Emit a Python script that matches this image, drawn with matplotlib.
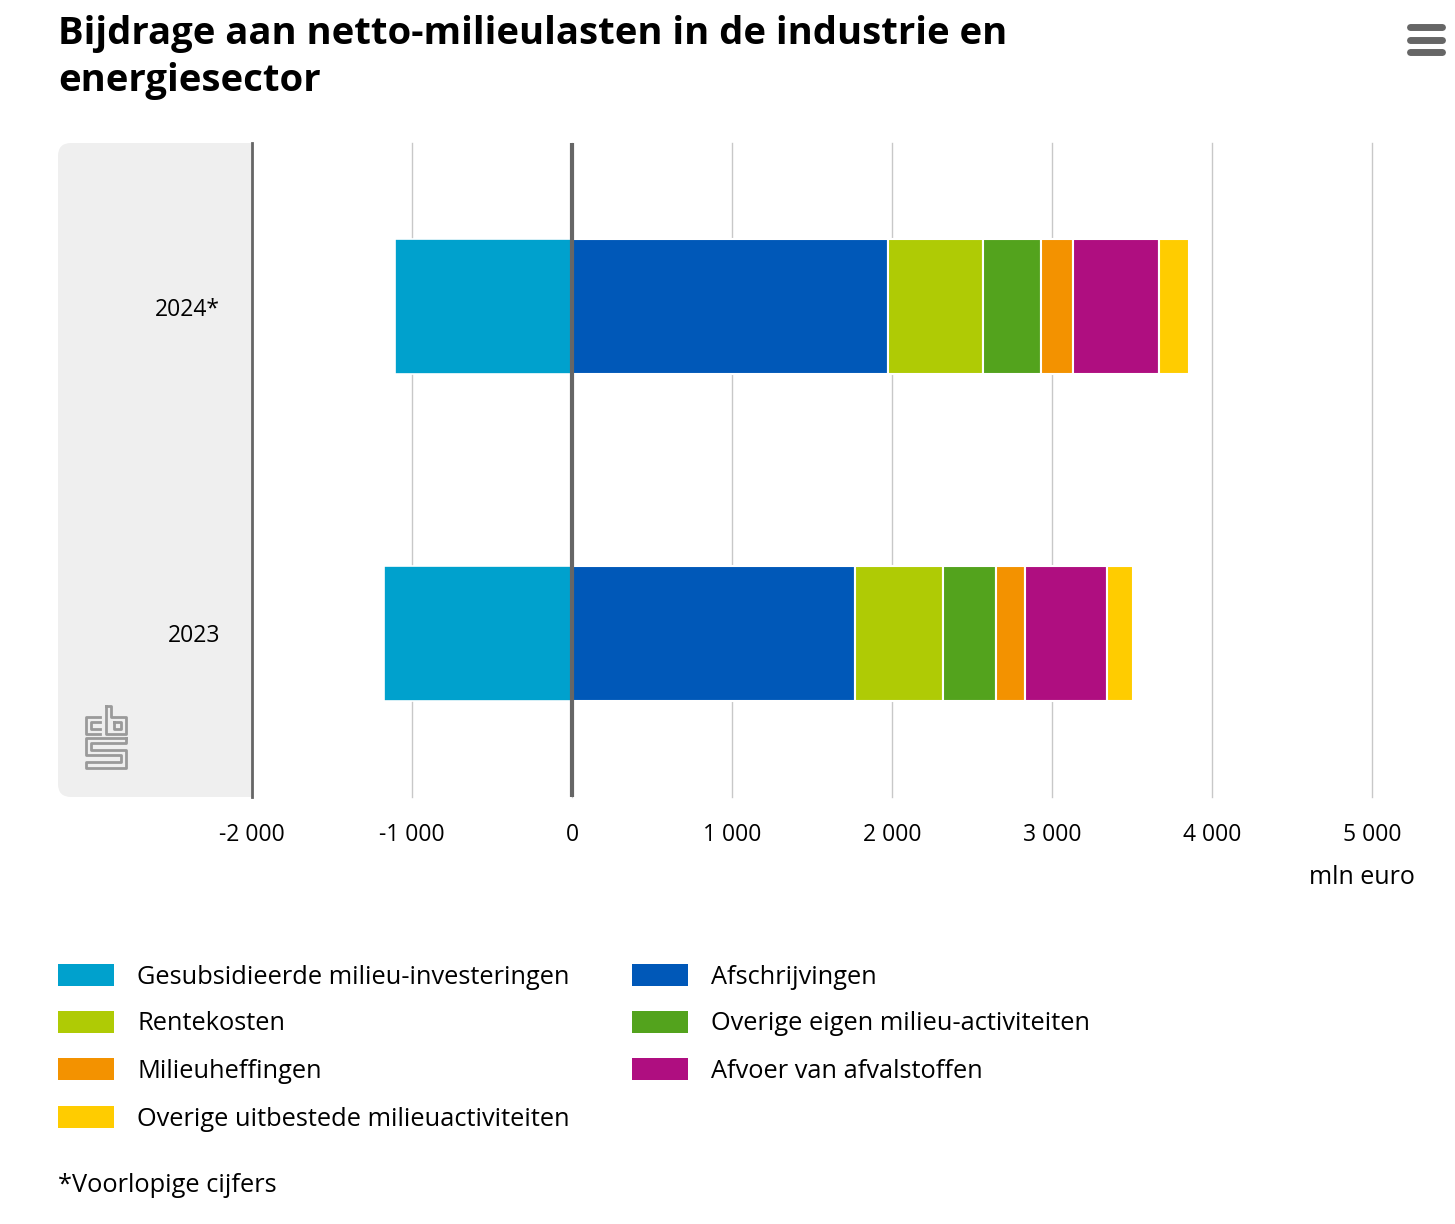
"""
Bijdrage aan netto-milieulasten in de industrie en energiesector
Stacked horizontal bars, 2023 and 2024*.
"""

import matplotlib
matplotlib.use("Agg")
import matplotlib.pyplot as plt
from matplotlib.patches import FancyBboxPatch, Rectangle
from matplotlib.ticker import FuncFormatter, MultipleLocator

W, H = 1455, 1224

# data (mln euro)
years = ["2023", "2024*"]
categories = [
    "Gesubsidieerde milieu-investeringen",
    "Afschrijvingen",
    "Rentekosten",
    "Overige eigen milieu-activiteiten",
    "Milieuheffingen",
    "Afvoer van afvalstoffen",
    "Overige uitbestede milieuactiviteiten",
]
colors = ["#00a1cd", "#0058b8", "#afcb05", "#53a31d", "#f39200", "#af0e80", "#ffcc00"]
subsidies = [-1178, -1108]
afschrijvingen = [1766, 1978]
rentekosten = [550, 589]
overige_eigen = [335, 367]
heffingen = [183, 196]
afvoer = [508, 536]
uitbesteed = [163, 193]

positives = [afschrijvingen, rentekosten, overige_eigen, heffingen, afvoer, uitbesteed]

plt.rcParams["font.family"] = ["Open Sans", "DejaVu Sans"]


def fx(x):
    return x / W


def fy(y):
    return 1 - y / H


fig = plt.figure(figsize=(W / 100, H / 100), dpi=100)

# grey panel behind the year labels (right part hidden under the axes)
panel = FancyBboxPatch((fx(58), fy(797)), fx(300) - fx(58), fy(143) - fy(797),
                       boxstyle="round,pad=0,rounding_size=0.009",
                       transform=fig.transFigure, facecolor="#efefef",
                       edgecolor="none", zorder=-1, mutation_aspect=W / H)
fig.patches.append(panel)

ax = fig.add_axes([fx(252), fy(797), fx(1372) - fx(252), fy(143) - fy(797)])
ax.set_facecolor("white")
ax.set_zorder(0)

ypos = list(range(len(years)))
bh = 0.41
ax.barh(ypos, subsidies, height=bh, color=colors[0], edgecolor="white", linewidth=1.2, zorder=3)
left = [0] * len(years)
for vals, c in zip(positives, colors[1:]):
    ax.barh(ypos, vals, left=left, height=bh, color=c, edgecolor="white", linewidth=1.5, zorder=3)
    left = [l + v for l, v in zip(left, vals)]

ax.set_xlim(-2000, 5000)
ax.set_ylim(-0.5, 1.5)
ax.xaxis.set_major_locator(MultipleLocator(1000))
ax.xaxis.set_major_formatter(FuncFormatter(lambda v, p: f"{int(v):,}".replace(",", " ")))
ax.grid(axis="x", color="#c8c8c8", linewidth=1, zorder=1)
for gl in ax.get_xgridlines():
    gl.set_clip_on(False)
ax.axvline(0, color="#666666", linewidth=3, zorder=4)
for s in ["top", "right", "bottom"]:
    ax.spines[s].set_visible(False)
ax.spines["left"].set_color("#666666")
ax.spines["left"].set_linewidth(2)
ax.set_yticks(ypos)
ax.set_yticklabels(years)
ax.tick_params(axis="y", length=0, pad=23, labelsize=16.5, labelcolor="#000000")
ax.tick_params(axis="x", length=0, pad=19, labelsize=16.5, labelcolor="#000000")

fig.text(fx(1415), fy(878), "mln euro", ha="right", va="center", fontsize=18)

# title
fig.text(fx(58), fy(34), "Bijdrage aan netto-milieulasten in de industrie en",
         fontsize=27.5, fontweight="bold", va="center", ha="left")
fig.text(fx(58), fy(81), "energiesector",
         fontsize=27.5, fontweight="bold", va="center", ha="left")

# hamburger menu icon
for yy in [27, 40, 52]:
    fig.add_artist(plt.Line2D([fx(1410), fx(1442)], [fy(yy), fy(yy)], color="#666666",
                              linewidth=5, solid_capstyle="round"))

# cbs logo (rough outline)
logo = [
    [(100, 717), (86, 717), (86, 734), (100, 734)],
    [(100, 722), (91, 722), (91, 729), (100, 729)],
    [(106, 706), (106, 734), (126, 734), (126, 717), (111, 717), (111, 706), (106, 706)],
    [(114, 722), (121, 722), (121, 729), (114, 729), (114, 722)],
    [(126, 738), (86, 738), (86, 755), (121, 755), (121, 762), (86, 762), (86, 768),
     (126, 768), (126, 750), (91, 750), (91, 743), (126, 743), (126, 738)],
]
for pts in logo:
    fig.add_artist(plt.Line2D([fx(p[0]) for p in pts], [fy(p[1]) for p in pts],
                              color="#9a9a9a", linewidth=2))

# legend, row-major in two columns
col_x = [58, 632]
row_y = [975, 1022, 1069, 1117]
for i, (lab, c) in enumerate(zip(categories, colors)):
    cx = col_x[i % 2]
    ry = row_y[i // 2]
    fig.patches.append(Rectangle((fx(cx), fy(ry + 11)), fx(56), fy(0) - fy(22),
                                 transform=fig.transFigure, facecolor=c, edgecolor="none"))
    fig.text(fx(cx + 79), fy(ry + 2), lab, fontsize=18.3, va="center", ha="left")

fig.text(fx(58), fy(1185), "*Voorlopige cijfers", fontsize=18.3, va="center", ha="left")

fig.savefig("out.png", dpi=100, facecolor="white")
